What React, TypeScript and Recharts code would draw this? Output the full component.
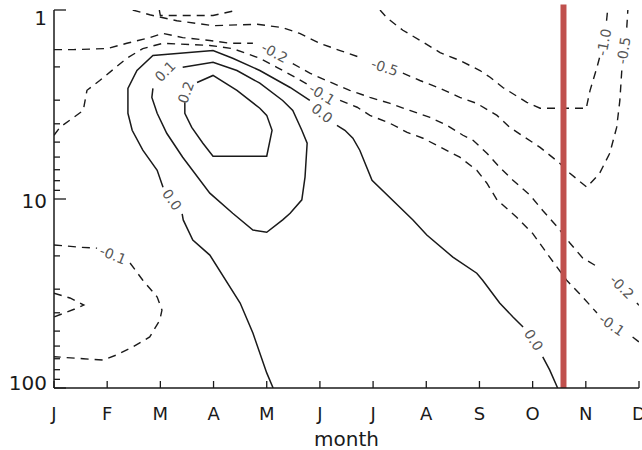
import { ComposedChart, Line, Scatter, XAxis, YAxis, ReferenceLine, Label } from "recharts";

type Pt = [number, number]; // [month index (J=0), pressure level]

const monthLetters = ["J", "F", "M", "A", "M", "J", "J", "A", "S", "O", "N", "D"];
const monthTicks = [0, 1, 2, 3, 4, 5, 6, 7, 8, 9, 10, 11];
const levelTicks = [1, 2, 3, 4, 5, 6, 7, 8, 9, 10, 20, 30, 40, 50, 60, 70, 80, 90, 100];
const levelLabels = [1, 10, 100];

// positive contours (solid), split where the inline labels sit
const c02: Pt[][] = [
  [[2.69, 2.42], [2.99, 2.22], [3.44, 2.66], [3.87, 3.31], [4.0, 3.61], [4.1, 4.33], [4.0, 5.94],
   [2.99, 5.94], [2.8, 5.07], [2.59, 4.18], [2.46, 3.52], [2.46, 3.08]],
];
const c01: Pt[][] = [
  [[2.42, 2.01], [2.99, 1.89], [3.44, 2.09], [3.87, 2.44], [4.3, 3.01], [4.49, 3.4], [4.66, 4.33],
   [4.76, 5.07], [4.72, 7.67], [4.66, 10.1], [4.44, 11.9], [4.3, 12.9], [4.0, 15.0], [3.74, 14.6],
   [3.36, 11.9], [2.93, 9.31], [2.42, 6.01], [2.12, 4.49], [1.94, 3.52], [1.84, 2.9], [1.86, 2.6]],
];
const c00: Pt[][] = [
  [[4.12, 100], [4.0, 83.2], [3.74, 51.2], [3.5, 35.5], [2.93, 19.8], [2.61, 16.5], [2.43, 12.9], [2.41, 12.0]],
  [[2.05, 8.66], [1.94, 7.05], [1.67, 5.52], [1.47, 4.33], [1.39, 3.52], [1.39, 2.6], [1.56, 2.09],
   [1.86, 1.74], [2.99, 1.64], [3.36, 1.8], [3.87, 2.09], [4.44, 2.57], [4.81, 3.01]],
  [[5.32, 4.08], [5.47, 4.33], [5.62, 4.77], [5.75, 5.52], [5.98, 7.96], [6.75, 12.9], [7.01, 15.5],
   [7.5, 20.3], [7.95, 24.7], [8.06, 26.9], [8.38, 35.5], [8.63, 42.1], [8.82, 47.6]],
  [[9.19, 68.5], [9.32, 80.2], [9.47, 100]],
];

// negative contours (dashed)
const cm01: Pt[][] = [
  [[0, 4.6], [0.11, 4.18], [0.55, 3.4], [0.62, 2.66], [0.86, 2.36], [1.37, 1.8], [1.67, 1.6], [2.05, 1.5],
   [2.93, 1.54], [3.36, 1.6], [3.87, 1.8], [4.19, 2.01], [4.57, 2.3], [4.81, 2.51]],
  [[5.38, 3.01], [5.7, 3.27], [5.94, 3.61], [6.32, 3.98], [6.64, 4.44], [6.94, 4.77], [7.63, 6.01],
   [7.95, 7.05], [8.14, 8.25], [8.33, 10.1], [8.7, 12.5], [9.0, 15.2], [9.32, 20.3], [9.64, 26.9],
   [9.94, 33.0], [10.21, 40.1]],
  [[10.88, 53.7], [11.0, 57.1]],
  [[0, 17.5], [0.49, 18.0], [0.81, 18.2]],
  [[1.43, 21.8], [1.67, 26.9], [1.94, 33.0], [2.03, 38.7], [1.99, 43.7], [1.8, 53.7], [1.48, 60.7],
   [1.18, 66.8], [0.92, 71.1], [0.55, 70.0], [0, 68.3]],
  [[0, 31.5], [0.3, 33.4], [0.56, 36.4], [0.39, 38.2], [0, 42.1]],
];
const cm02: Pt[][] = [
  [[0, 1.62], [0.36, 1.62], [1.0, 1.6], [1.37, 1.5], [1.8, 1.4], [2.05, 1.33], [2.42, 1.4], [2.93, 1.45],
   [3.31, 1.5], [3.74, 1.5]],
  [[4.49, 1.92], [4.81, 2.16], [5.24, 2.44], [5.56, 2.66], [5.94, 2.9], [6.32, 3.12], [6.69, 3.4],
   [7.07, 3.7], [7.39, 4.08], [7.69, 4.6], [7.88, 4.89], [8.14, 5.73], [8.38, 6.79], [8.63, 7.96],
   [8.95, 9.54], [9.19, 11.5], [9.47, 14.1], [9.7, 17.1], [9.94, 20.5], [10.26, 23.2]],
  [[10.96, 35.5], [11.0, 36.5]],
];
const cm05: Pt[][] = [
  [[1.48, 1.0], [1.8, 1.06], [2.31, 1.14], [2.99, 1.21], [3.82, 1.19], [4.3, 1.24], [4.62, 1.33],
   [5.0, 1.5], [5.38, 1.64], [5.75, 1.78]],
  [[6.56, 2.16], [6.88, 2.36], [7.26, 2.6], [7.63, 2.9], [7.95, 3.12], [8.33, 3.61], [8.57, 4.18],
   [9.14, 5.33], [9.51, 6.47], [9.7, 7.31], [10.02, 8.66], [10.26, 7.31], [10.45, 5.73], [10.58, 4.18],
   [10.64, 3.01], [10.68, 2.01]],
  [[10.77, 1.24], [10.79, 1.0]],
];
const cm10: Pt[][] = [
  [[6.13, 1.0], [6.26, 1.1], [6.56, 1.28], [6.94, 1.48], [7.26, 1.68], [7.63, 1.85], [8.01, 2.09],
   [8.2, 2.27], [8.44, 2.57], [8.89, 3.08], [9.14, 3.31], [10.02, 3.31], [10.02, 3.19], [10.08, 2.66],
   [10.21, 2.01], [10.26, 1.78]],
  [[10.39, 1.14], [10.41, 1.0]],
];
const cTop: Pt[][] = [
  [[1.98, 1.0], [2.0, 1.07], [2.99, 1.07], [3.45, 1.0]],
];

// inline contour labels
const labelText = ["0.2", "0.1", "0.0", "0.0", "0.0", "-0.1", "-0.1", "-0.1", "-0.2", "-0.2", "-0.5", "-0.5", "-1.0"];
const labelMonth = [2.48, 2.09, 2.22, 5.04, 9.02, 5.04, 10.49, 1.11, 4.15, 10.68, 6.22, 10.71, 10.34];
const labelLevel = [2.73, 2.11, 10.1, 3.52, 55.7, 2.79, 46.4, 19.8, 1.68, 29.2, 2.01, 1.64, 1.48];
const labelAngle = [-70, -45, 55, 38, 58, 32, 35, 22, 28, 45, 18, -82, -79];

// date marked by the red bar
const markerMonth = 9.58;

const toRows = (seg: Pt[]) => seg.map(([m, p]) => ({ m, p }));

const labelRows = labelText.map((text, i) => ({
  m: labelMonth[i],
  p: labelLevel[i],
  text,
  angle: labelAngle[i],
}));

const INK = "#1a1a1a";
const FONT = "DejaVu Sans, sans-serif";

const BottomTick = (props: any) => {
  const { x, y, payload } = props;
  return (
    <g>
      <line x1={x} y1={y} x2={x} y2={y - 7} stroke={INK} strokeWidth={1.3} />
      <text x={x} y={y + 32} textAnchor="middle" fontSize={18} fontFamily={FONT} fill={INK}>
        {monthLetters[payload.value]}
      </text>
    </g>
  );
};

const TopTick = (props: any) => {
  const { x, y } = props;
  return <line x1={x} y1={y} x2={x} y2={y + 6} stroke={INK} strokeWidth={1.3} />;
};

const labelShift: Record<number, number> = { 1: 14.5, 10: 8.5, 100: 2 };

const LeftTick = (props: any) => {
  const { x, y, payload } = props;
  const v = payload.value;
  const major = levelLabels.includes(v);
  return (
    <g>
      <line x1={x} y1={y} x2={x + (major ? 12 : 6)} y2={y} stroke={INK} strokeWidth={1.3} />
      {major && (
        <text x={x - 7} y={y + labelShift[v]} textAnchor="end" fontSize={20} fontFamily={FONT} fill={INK}>
          {v}
        </text>
      )}
    </g>
  );
};

const RightTick = (props: any) => {
  const { x, y, payload } = props;
  const v = payload.value;
  const len = levelLabels.includes(v) ? 12 : v === 2 || v === 3 ? 10 : 6;
  return <line x1={x} y1={y} x2={x - len} y2={y} stroke={INK} strokeWidth={1.3} />;
};

const ContourLabel = (props: any) => {
  const { cx, cy, payload } = props;
  return (
    <text
      x={cx}
      y={cy}
      transform={`rotate(${payload.angle} ${cx} ${cy})`}
      textAnchor="middle"
      dominantBaseline="central"
      fontSize={14}
      fontFamily={FONT}
      fill="#555"
    >
      {payload.text}
    </text>
  );
};

const solid = [...c02, ...c01, ...c00];
const dashed = [...cm01, ...cm02, ...cm05, ...cm10, ...cTop];

export default function App() {
  return (
    <div style={{ position: "absolute", left: 0, top: 0, width: 642, height: 450, background: "#fff" }}>
      <ComposedChart width={642} height={450} margin={{ top: 10, right: 3, left: 0, bottom: 0 }}>
        <XAxis
          xAxisId={0}
          type="number"
          dataKey="m"
          domain={[0, 11]}
          allowDataOverflow
          ticks={monthTicks}
          interval={0}
          tickSize={0}
          tickMargin={0}
          tickLine={false}
          tick={<BottomTick />}
          height={62}
          axisLine={{ stroke: INK, strokeWidth: 1.5 }}
        >
          <Label
            value="month"
            position="insideBottom"
            offset={4}
            style={{ fontSize: 20, fontFamily: FONT, fill: INK }}
          />
        </XAxis>
        <XAxis
          xAxisId="top"
          orientation="top"
          type="number"
          dataKey="m"
          domain={[0, 11]}
          allowDataOverflow
          ticks={monthTicks}
          interval={0}
          tickSize={0}
          tickMargin={0}
          tickLine={false}
          tick={<TopTick />}
          height={0}
          axisLine={{ stroke: INK, strokeWidth: 1.5 }}
        />
        <YAxis
          yAxisId={0}
          type="number"
          dataKey="p"
          scale="log"
          domain={[1, 100]}
          reversed
          allowDataOverflow
          ticks={levelTicks}
          interval={0}
          tickSize={0}
          tickMargin={0}
          tickLine={false}
          tick={<LeftTick />}
          width={54}
          axisLine={{ stroke: INK, strokeWidth: 1.5 }}
        />
        <YAxis
          yAxisId="right"
          orientation="right"
          type="number"
          dataKey="p"
          scale="log"
          domain={[1, 100]}
          reversed
          allowDataOverflow
          ticks={levelTicks}
          interval={0}
          tickSize={0}
          tickMargin={0}
          tickLine={false}
          tick={<RightTick />}
          width={0}
          axisLine={{ stroke: INK, strokeWidth: 1.5 }}
        />

        {solid.map((seg, i) => (
          <Line
            key={`s${i}`}
            data={toRows(seg)}
            dataKey="p"
            type="linear"
            stroke={INK}
            strokeWidth={1.5}
            dot={false}
            activeDot={false}
            isAnimationActive={false}
          />
        ))}
        {dashed.map((seg, i) => (
          <Line
            key={`d${i}`}
            data={toRows(seg)}
            dataKey="p"
            type="linear"
            stroke={INK}
            strokeWidth={1.4}
            strokeDasharray="8 6"
            dot={false}
            activeDot={false}
            isAnimationActive={false}
          />
        ))}

        <Scatter data={labelRows} dataKey="p" shape={<ContourLabel />} isAnimationActive={false} />

        <ReferenceLine
          segment={[
            { x: markerMonth, y: 0.935 },
            { x: markerMonth, y: 100 },
          ]}
          ifOverflow="visible"
          stroke="#c0504d"
          strokeWidth={6}
        />
      </ComposedChart>
    </div>
  );
}
